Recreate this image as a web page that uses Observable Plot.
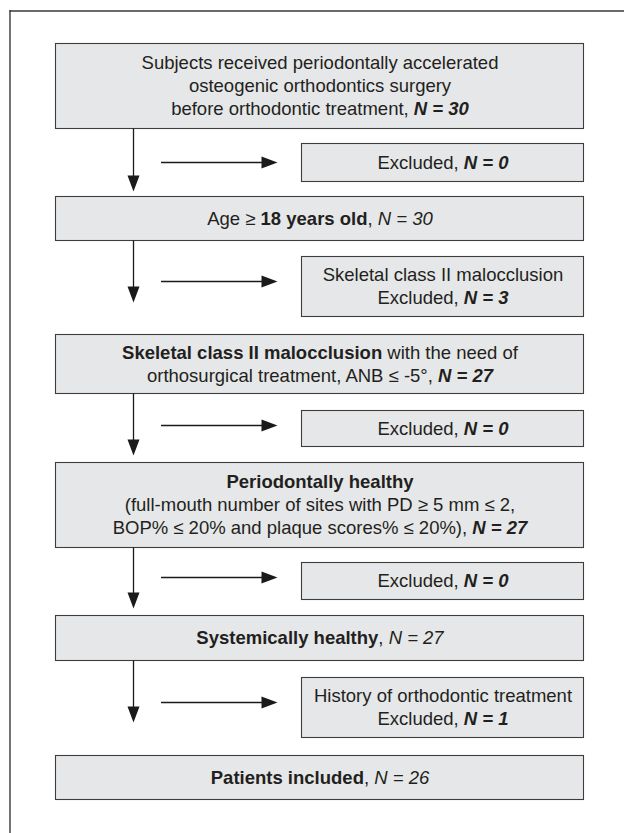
<!DOCTYPE html>
<html>
<head>
<meta charset="utf-8">
<script src="https://cdn.jsdelivr.net/npm/d3@7"></script>
<script src="https://cdn.jsdelivr.net/npm/@observablehq/plot@0.6"></script>
<style>
  html, body { margin: 0; padding: 0; background: #fff; }
  #chart svg { display: block; }
</style>
</head>
<body>
<div id="chart"></div>
<script>
// ---------- DATA ----------
// Main flow steps (markup: <b> bold, <i> italic, <bi> bold italic; {n} = count)
const stepLines = [
  ["Subjects received periodontally accelerated", "osteogenic orthodontics surgery", "before orthodontic treatment, <bi>N = {n}</bi>"],
  ["Age ≥ <b>18 years old</b>, <i>N = {n}</i>"],
  ["<b>Skeletal class II malocclusion</b> with the need of", "orthosurgical treatment, ANB ≤ -5°, <bi>N = {n}</bi>"],
  ["<b>Periodontally healthy</b>", "(full-mouth number of sites with PD ≥ 5 mm ≤ 2,", "BOP% ≤ 20% and plaque scores% ≤ 20%), <bi>N = {n}</bi>"],
  ["<b>Systemically healthy</b>, <i>N = {n}</i>"],
  ["<b>Patients included</b>, <i>N = {n}</i>"]
];
const stepN = [30, 30, 27, 27, 27, 26];

// Exclusion boxes
const exclLines = [
  ["Excluded, <bi>N = {n}</bi>"],
  ["Skeletal class II malocclusion", "Excluded, <bi>N = {n}</bi>"],
  ["Excluded, <bi>N = {n}</bi>"],
  ["Excluded, <bi>N = {n}</bi>"],
  ["History of orthodontic treatment", "Excluded, <bi>N = {n}</bi>"]
];
const exclN = [0, 3, 0, 0, 1];

// ---------- LAYOUT ----------
const W = 624, H = 833;
const mainX = [55.5, 583.5];
const exclX = [301.5, 583.5];
const mainY = [[43.5,128.5],[196.5,240.5],[334.5,393.5],[462.5,547.5],[615.5,660.5],[755.5,799.5]];
const exclY = [[143.5,181.5],[256.5,316.5],[410.5,446.5],[562.5,599.5],[677.5,737.5]];
const stemX = 133;
const tipY = [191, 302, 455, 608, 722];
const horizY = [162, 281, 425, 577, 702];
const horizX = [161, 277];
const headLen = 16, headHalf = 6;
const lineH = 23;
const FONT = "'Liberation Sans', Arial, Helvetica, sans-serif";
const FS = 18.5;

// ---------- BUILD TABLES ----------
const boxes = [
  ...mainY.map(([y1, y2]) => ({x1: mainX[0], x2: mainX[1], y1, y2})),
  ...exclY.map(([y1, y2]) => ({x1: exclX[0], x2: exclX[1], y1, y2}))
];
const textRows = [];
const markupOf = new Map();
const strip = s => s.replace(/<\/?(bi|b|i)>/g, "");
function addLines(lines, n, xs, ys) {
  const cx = (xs[0] + xs[1]) / 2, cy = (ys[0] + ys[1]) / 2;
  lines.forEach((ln, i) => {
    const markup = ln.replace("{n}", n);
    const plain = strip(markup);
    markupOf.set(plain, markup);
    textRows.push({x: cx, y: cy + (i - (lines.length - 1) / 2) * lineH, text: plain});
  });
}
stepLines.forEach((l, i) => addLines(l, stepN[i], mainX, mainY[i]));
exclLines.forEach((l, i) => addLines(l, exclN[i], exclX, exclY[i]));

// connectors
const stems = tipY.map((t, i) => ({x: stemX, y1: mainY[i][1], y2: t - headLen + 1}));
const horiz = horizY.map(y => ({y, x1: horizX[0], x2: horizX[1] - headLen + 1}));
const heads = [];
tipY.forEach((t, i) => {
  heads.push({id: "v" + i, x: stemX - headHalf, y: t - headLen});
  heads.push({id: "v" + i, x: stemX, y: t});
  heads.push({id: "v" + i, x: stemX + headHalf, y: t - headLen});
});
horizY.forEach((y, i) => {
  heads.push({id: "h" + i, x: horizX[1] - headLen, y: y - headHalf});
  heads.push({id: "h" + i, x: horizX[1], y});
  heads.push({id: "h" + i, x: horizX[1] - headLen, y: y + headHalf});
});

// ---------- PLOT ----------
const svg = Plot.plot({
  width: W, height: H,
  margin: 0,
  x: {domain: [0, W], range: [0, W], axis: null},
  y: {domain: [0, H], range: [0, H], axis: null},
  style: {background: "#fff", fontFamily: FONT},
  marks: [
    // outer frame (top and left edges)
    Plot.ruleY([10.5], {x1: 9.5, x2: W, stroke: "#3a3a3a", strokeWidth: 1.4}),
    Plot.ruleX([9.5], {y1: 10, y2: H, stroke: "#3a3a3a", strokeWidth: 1.4}),
    // boxes
    Plot.rect(boxes, {x1: "x1", x2: "x2", y1: "y1", y2: "y2", fill: "#e6e7e8", stroke: "#3d3d3d", strokeWidth: 1.1}),
    // connectors
    Plot.ruleX(stems, {x: "x", y1: "y1", y2: "y2", stroke: "#1a1a1a", strokeWidth: 1.3}),
    Plot.ruleY(horiz, {y: "y", x1: "x1", x2: "x2", stroke: "#1a1a1a", strokeWidth: 1.3}),
    Plot.line(heads, {x: "x", y: "y", z: "id", fill: "#1a1a1a", stroke: "none", curve: "linear"}),
    // labels
    Plot.text(textRows, {x: "x", y: "y", text: "text", fontSize: FS, fill: "#231f20", textAnchor: "middle", lineAnchor: "middle"})
  ]
});

// rich text: apply bold / italic spans
const NS = "http://www.w3.org/2000/svg";
svg.querySelectorAll('g[aria-label="text"] text').forEach(t => {
  const plain = t.textContent;
  const markup = markupOf.get(plain);
  if (!markup) return;
  while (t.firstChild) t.removeChild(t.firstChild);
  const re = /<(bi|b|i)>(.*?)<\/\1>/g;
  let last = 0, m;
  const add = (s, tag) => {
    if (!s) return;
    const sp = document.createElementNS(NS, "tspan");
    if (tag === "b" || tag === "bi") sp.setAttribute("font-weight", "bold");
    if (tag === "i" || tag === "bi") sp.setAttribute("font-style", "italic");
    sp.textContent = s;
    t.appendChild(sp);
  };
  while ((m = re.exec(markup))) {
    add(markup.slice(last, m.index), null);
    add(m[2], m[1]);
    last = re.lastIndex;
  }
  add(markup.slice(last), null);
});

document.getElementById("chart").appendChild(svg);
</script>
</body>
</html>
